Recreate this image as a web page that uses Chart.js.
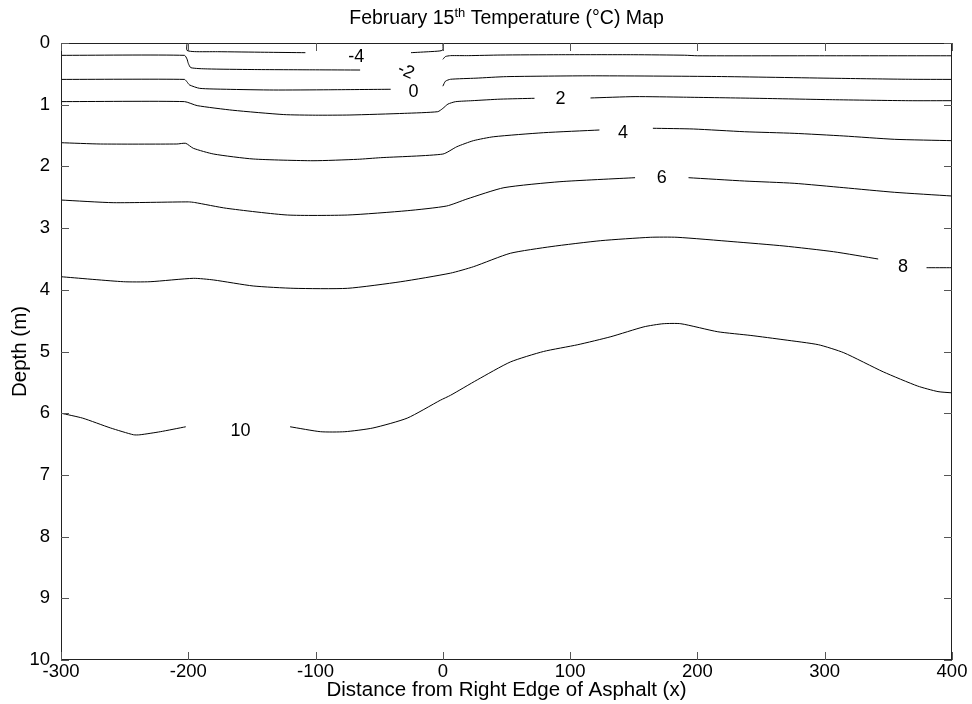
<!DOCTYPE html>
<html><head><meta charset="utf-8">
<script src="https://cdn.jsdelivr.net/npm/chart.js@4.4.1/dist/chart.umd.min.js"></script>
<style>html,body{margin:0;padding:0;background:#fff}#wrap{width:972px;height:704px}</style>
</head><body><div id="wrap"><canvas id="c" width="972" height="704"></canvas></div>
<script>
// Tick values
const xTicks = [-300,-200,-100,0,100,200,300,400];
const yTicks = [0,1,2,3,4,5,6,7,8,9,10];

// Contour pieces: [distance x, depth m]
const cM4a = [[-201,0],[-201,0.12],[-195,0.14],[-177,0.141],[-140,0.15],[-108,0.157]];
const cM4b = [[-25,0.157],[-10,0.14],[-3,0.13],[0,0.113],[0,0]];
const cM2a = [[-300,0.20],[-203,0.20],[-201,0.26],[-200,0.33],[-198,0.40],[-185,0.42],[-150,0.43],[-100,0.435],[-65,0.438]];
const cM2b = [[0,0.265],[2,0.22],[6,0.205],[20,0.205],[45,0.195],[91,0.19],[150,0.19],[190,0.198],[200,0.207],[300,0.207],[400,0.207]];
const c0a = [[-300,0.59],[-203,0.59],[-201,0.63],[-199,0.68],[-191,0.735],[-170,0.75],[-133,0.762],[-90,0.758],[-41,0.75]];
const c0b = [[0,0.70],[2,0.62],[6,0.588],[26,0.57],[50,0.545],[116,0.532],[215,0.543],[308,0.572],[366,0.588],[400,0.59]];
const c2a = [[-300,0.95],[-203,0.95],[-193,1.015],[-165,1.09],[-125,1.16],[-100,1.17],[-73,1.167],[-30,1.14],[-4,1.113],[0,1.06],[4,0.99],[10,0.951],[23,0.935],[45,0.91],[72,0.896]];
const c2b = [[116,0.891],[151,0.869],[189,0.878],[246,0.896],[306,0.919],[366,0.935],[400,0.935]];
const c4a = [[-300,1.616],[-269,1.637],[-209,1.637],[-202,1.626],[-196,1.707],[-180,1.80],[-149,1.88],[-102,1.908],[-67,1.885],[-49,1.859],[0,1.80],[11,1.681],[24,1.583],[40,1.519],[79,1.454],[123,1.41]];
const c4b = [[165,1.382],[197,1.394],[237,1.438],[276,1.464],[315,1.507],[355,1.561],[400,1.583]];
const c6a = [[-300,2.545],[-259,2.588],[-200,2.575],[-195,2.585],[-170,2.679],[-122,2.788],[-75,2.788],[-28,2.718],[3,2.642],[19,2.528],[48,2.345],[92,2.248],[151,2.183]];
const c6b = [[193,2.183],[237,2.237],[276,2.274],[315,2.345],[355,2.42],[400,2.48]];
const c8a = [[-300,3.788],[-251,3.869],[-230,3.869],[-196,3.814],[-180,3.841],[-149,3.938],[-117,3.976],[-75,3.976],[-33,3.869],[6,3.73],[24,3.626],[53,3.408],[85,3.30],[124,3.204],[163,3.149],[184,3.149],[228,3.22],[268,3.29],[307,3.383],[342,3.501]];
const c8b = [[380,3.642],[400,3.642]];
const c10a = [[-300,6.0],[-283,6.08],[-261,6.24],[-243,6.35],[-238,6.35],[-222,6.30],[-202,6.22]];
const c10b = [[-120,6.22],[-96,6.30],[-77,6.30],[-55,6.24],[-28,6.08],[-2,5.79],[6,5.71],[27,5.46],[53,5.17],[79,5.00],[106,4.89],[132,4.76],[158,4.60],[173,4.55],[187,4.55],[216,4.68],[242,4.74],[268,4.81],[295,4.89],[315,5.02],[346,5.33],[373,5.56],[389,5.65],[400,5.67]];

// Contour labels
const labelText  = ['-4','-2','0','2','4','6','8','10'];
const labelX     = [-68,-29,-23,92.5,141.5,172,361.5,-159];
const labelDepth = [0.22,0.46,0.80,0.91,1.46,2.19,3.63,6.29];
const labelAngle = [0,25,0,0,0,0,0,0];

const FONT = "'Liberation Sans', Arial, Helvetica, sans-serif";
const pieces = [cM4a,cM4b,cM2a,cM2b,c0a,c0b,c2a,c2b,c4a,c4b,c6a,c6b,c8a,c8b,c10a,c10b];
const datasets = pieces.map(p => ({
  data: p.map(([x,y]) => ({x, y})),
  borderColor: '#000', borderWidth: 1, pointRadius: 0, showLine: true,
  tension: 0.2, fill: false
}));

const framePlugin = {
  id: 'frame',
  afterDraw(chart) {
    const {ctx, chartArea: a, scales: {x, y}} = chart;
    ctx.save();
    ctx.strokeStyle = '#222'; ctx.lineWidth = 1;
    ctx.strokeRect(Math.round(a.left)+0.5, Math.round(a.top)+0.5, Math.round(a.right-a.left)-1, Math.round(a.bottom-a.top)-1);
    ctx.beginPath();
    const L = 8;
    xTicks.forEach(v => {
      const px = Math.round(x.getPixelForValue(v)) + 0.5;
      ctx.moveTo(px, a.bottom); ctx.lineTo(px, a.bottom - L);
      ctx.moveTo(px, a.top); ctx.lineTo(px, a.top + L);
    });
    yTicks.forEach(v => {
      const py = Math.round(y.getPixelForValue(v)) + 0.5;
      ctx.moveTo(a.left, py); ctx.lineTo(a.left + L, py);
      ctx.moveTo(a.right, py); ctx.lineTo(a.right - L, py);
    });
    ctx.strokeStyle = '#555';
    ctx.stroke();
    // contour labels
    ctx.fillStyle = '#000';
    ctx.font = '18px ' + FONT;
    ctx.textAlign = 'center'; ctx.textBaseline = 'middle';
    labelText.forEach((t, i) => {
      const px = x.getPixelForValue(labelX[i]);
      const py = y.getPixelForValue(labelDepth[i]);
      ctx.save();
      ctx.translate(px, py);
      ctx.rotate(labelAngle[i] * Math.PI / 180);
      ctx.fillText(t, 0, 0);
      ctx.restore();
    });
    // title with superscript
    const p1 = 'February 15', sup = 'th', p2 = ' Temperature (\u00B0C) Map';
    ctx.textAlign = 'left'; ctx.textBaseline = 'alphabetic';
    ctx.font = '19.5px ' + FONT; const w1 = ctx.measureText(p1).width, w3 = ctx.measureText(p2).width;
    ctx.font = '13px ' + FONT; const w2 = ctx.measureText(sup).width;
    const cx = (a.left + a.right) / 2;
    let sx = cx - (w1 + w2 + w3) / 2;
    const base = 24;
    ctx.font = '19.5px ' + FONT; ctx.fillText(p1, sx, base); sx += w1;
    ctx.font = '13px ' + FONT; ctx.fillText(sup, sx, base - 7); sx += w2;
    ctx.font = '19.5px ' + FONT; ctx.fillText(p2, sx, base);
    ctx.restore();
  }
};

new Chart(document.getElementById('c'), {
  type: 'scatter',
  data: { datasets },
  options: {
    responsive: false, animation: false, devicePixelRatio: 1,
    layout: { padding: { left: 0, right: 20, top: 43, bottom: 0 } },
    plugins: { legend: { display: false }, tooltip: { enabled: false } },
    scales: {
      x: {
        type: 'linear', min: -300, max: 400,
        afterBuildTicks: s => { s.ticks = xTicks.map(v => ({ value: v })); },
        afterFit: s => { s.height = 44; },
        grid: { display: false, drawTicks: false }, border: { display: false },
        ticks: { color: '#000', font: { family: FONT, size: 18.5 }, padding: 1, autoSkip: false, maxRotation: 0 },
        title: { display: true, text: 'Distance from Right Edge of Asphalt (x)', color: '#000', font: { family: FONT, size: 20.5 }, padding: { top: 0, bottom: 1 } }
      },
      y: {
        type: 'linear', reverse: true, min: 0, max: 10,
        afterBuildTicks: s => { s.ticks = yTicks.map(v => ({ value: v })); },
        afterFit: s => { s.width = 61; },
        grid: { display: false, drawTicks: false }, border: { display: false },
        ticks: { color: '#000', font: { family: FONT, size: 18.5 }, padding: 11, autoSkip: false },
        title: { display: true, text: 'Depth (m)', color: '#000', font: { family: FONT, size: 20.5 }, padding: { top: 8, bottom: 0 } }
      }
    }
  },
  plugins: [framePlugin]
});
</script></body></html>
